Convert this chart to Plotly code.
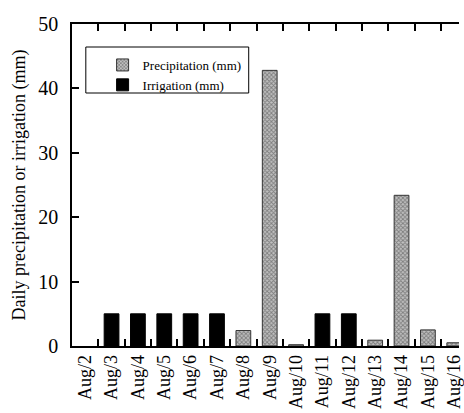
import plotly.graph_objects as go

categories = ["Aug/2", "Aug/3", "Aug/4", "Aug/5", "Aug/6", "Aug/7", "Aug/8", "Aug/9",
              "Aug/10", "Aug/11", "Aug/12", "Aug/13", "Aug/14", "Aug/15", "Aug/16"]
precipitation = [None, None, None, None, None, None, 2.4, 42.8,
                 0.2, None, None, 0.9, 23.4, 2.5, 0.5]
irrigation = [None, 5, 5, 5, 5, 5, None, None,
              None, 5, 5, None, None, None, None]
y_ticks = [0, 10, 20, 30, 40, 50]

FONT = "'Times New Roman', 'Liberation Serif', Times, serif"

fig = go.Figure()
fig.add_trace(go.Bar(
    x=categories, y=precipitation, name="Precipitation (mm)", width=0.56,
    marker=dict(color="#a0a0a0", line=dict(color="#333333", width=1),
                pattern=dict(shape="x", size=3, solidity=0.5,
                             fgcolor="#3c3c3c", bgcolor="#c0c0c0")),
))
fig.add_trace(go.Bar(
    x=categories, y=irrigation, name="Irrigation (mm)", width=0.56,
    marker=dict(color="black", line=dict(color="black", width=1)),
))

fig.add_shape(type="rect", xref="paper", yref="paper",
              x0=(86 - 72) / 392, x1=(251 - 72) / 392,
              y0=(346 - 93) / 322, y1=(346 - 47) / 322,
              line=dict(color="black", width=1), fillcolor="white", layer="above")

fig.update_layout(
    width=464, height=413,
    margin=dict(l=72, r=0, t=24, b=67),
    paper_bgcolor="white", plot_bgcolor="white",
    barmode="overlay",
    font=dict(family=FONT, color="black"),
    showlegend=True,
    legend=dict(x=(103 - 72) / 392, y=(346 - 50) / 322, xanchor="left", yanchor="top",
                bgcolor="rgba(0,0,0,0)", borderwidth=0,
                font=dict(family=FONT, size=13, color="black"),
                tracegroupgap=0),
    xaxis=dict(type="category", range=[-0.5, 14.18], tickson="boundaries",
               ticks="inside", ticklen=7, tickwidth=1.5, tickcolor="black",
               showline=True, linecolor="black", linewidth=1.5, mirror="ticks",
               tickangle=-90, tickfont=dict(family=FONT, size=18, color="black"),
               showgrid=False, zeroline=False),
    yaxis=dict(range=[0, 50], tickvals=y_ticks, ticks="inside", ticklen=7,
               tickwidth=1.5, tickcolor="black", showline=True, linecolor="black",
               linewidth=1.5, ticklabelstandoff=8,
               tickfont=dict(family=FONT, size=20, color="black"),
               title=dict(text="Daily precipitation or irrigation (mm)",
                          font=dict(family=FONT, size=18, color="black"), standoff=8),
               showgrid=False, zeroline=False),
)

fig.write_html("out.html")
